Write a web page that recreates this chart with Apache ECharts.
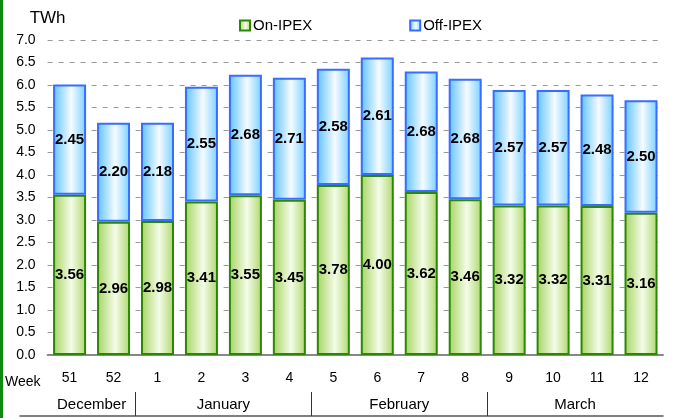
<!DOCTYPE html>
<html>
<head>
<meta charset="utf-8">
<script src="https://cdn.jsdelivr.net/npm/echarts@6/dist/echarts.min.js"></script>
<style>
  html, body { margin: 0; padding: 0; background: #fff; }
  .wrap { position: relative; width: 673px; height: 418px; }
  .frame-left { position: absolute; left: 0; top: 0; width: 3px; height: 418px; background: #118a11; z-index: 2; }
  #chart { width: 673px; height: 418px; }
</style>
</head>
<body>
<div class="wrap">
  <div class="frame-left"></div>
  <div id="chart"></div>
</div>
<script>
var weeks = ["51", "52", "1", "2", "3", "4", "5", "6", "7", "8", "9", "10", "11", "12"];
var onIpex = [3.56, 2.96, 2.98, 3.41, 3.55, 3.45, 3.78, 4.00, 3.62, 3.46, 3.32, 3.32, 3.31, 3.16];
var offIpex = [2.45, 2.20, 2.18, 2.55, 2.68, 2.71, 2.58, 2.61, 2.68, 2.68, 2.57, 2.57, 2.48, 2.50];
var months = ["December", "January", "February", "March"];
var monthWeeks = [2, 4, 4, 4]; // weeks in each month group

// month boundaries and centres in category units
var monthEdges = [];
var monthCenters = [];
var acc = 0;
for (let i = 0; i < monthWeeks.length; i++) {
  monthCenters.push(acc + monthWeeks[i] / 2);
  acc += monthWeeks[i];
  if (i < monthWeeks.length - 1) monthEdges.push(acc);
}

var font = "Liberation Sans, Arial, sans-serif";
var gridLeft = 47.6, gridRight = 10, monthLeft = 20;
var catW = (673 - gridLeft - gridRight) / weeks.length;
var monthMin = -(gridLeft - monthLeft) / catW;

var myChart = echarts.init(document.getElementById("chart"));

var greenFill = new echarts.graphic.LinearGradient(0, 0, 1, 0, [
  { offset: 0, color: "#a6d35f" },
  { offset: 0.55, color: "#f4fce9" },
  { offset: 1, color: "#aed76c" }
]);
var blueFill = new echarts.graphic.LinearGradient(0, 0, 1, 0, [
  { offset: 0, color: "#5cc3ff" },
  { offset: 0.55, color: "#f6fbff" },
  { offset: 1, color: "#78d0ff" }
]);

var label = {
  show: true,
  position: "inside",
  color: "#000",
  fontWeight: "bold",
  fontSize: 15,
  fontFamily: font,
  formatter: function (p) { return p.value.toFixed(2); }
};

var option = {
  animation: false,
  textStyle: { fontFamily: font },
  legend: {
    left: 234,
    top: 13,
    icon: "rect",
    itemWidth: 10,
    itemHeight: 10,
    itemGap: 97,
    textStyle: { fontSize: 15, color: "#000", fontFamily: font, padding: [0, 0, 0, -2] },
    data: ["On-IPEX", "Off-IPEX"]
  },
  grid: [
    { left: gridLeft, right: gridRight, top: 40, bottom: 63 },
    { left: monthLeft, right: gridRight, top: 380, bottom: 2 }
  ],
  graphic: [
    {
      type: "text",
      left: 5,
      top: 375,
      style: { text: "Week", fontSize: 14, fontFamily: font, fill: "#000" }
    }
  ],
  xAxis: [
    {
      type: "category",
      gridIndex: 0,
      data: weeks,
      axisLine: { lineStyle: { color: "#888", width: 2 } },
      axisTick: { show: false },
      axisLabel: { color: "#000", fontSize: 14, margin: 16, fontFamily: font }
    },
    {
      type: "value",
      gridIndex: 1,
      min: monthMin,
      max: weeks.length,
      axisLine: { show: true, lineStyle: { color: "#555", width: 1.5 } },
      axisTick: {
        show: true,
        inside: true,
        length: 24,
        customValues: monthEdges,
        lineStyle: { color: "#333", width: 1 }
      },
      axisLabel: {
        show: true,
        inside: true,
        margin: 4,
        customValues: monthCenters,
        color: "#000",
        fontSize: 15,
        fontFamily: font,
        formatter: function (v) {
          var idx = monthCenters.indexOf(v);
          return idx >= 0 ? months[idx] : "";
        }
      },
      splitLine: { show: false }
    }
  ],
  yAxis: [
    {
      type: "value",
      gridIndex: 0,
      min: 0,
      max: 7,
      interval: 0.5,
      name: "TWh",
      nameLocation: "end",
      nameGap: 13,
      nameTextStyle: { color: "#000", fontSize: 17, fontFamily: font, align: "center" },
      axisLine: { show: false },
      axisTick: { show: false },
      axisLabel: {
        color: "#000",
        fontSize: 14,
        margin: 12,
        fontFamily: font,
        formatter: function (v) { return v.toFixed(1); }
      },
      splitLine: { lineStyle: { color: "#999", type: [5, 6], width: 1 } }
    },
    { type: "value", gridIndex: 1, show: false }
  ],
  series: [
    {
      name: "On-IPEX",
      type: "bar",
      stack: "total",
      barWidth: 33,
      itemStyle: { color: greenFill, borderColor: "#2a8806", borderWidth: 2 },
      label: label,
      data: onIpex
    },
    {
      name: "Off-IPEX",
      type: "bar",
      stack: "total",
      barWidth: 33,
      itemStyle: { color: blueFill, borderColor: "#3a6cff", borderWidth: 2 },
      label: label,
      data: offIpex
    }
  ]
};

myChart.setOption(option);
</script>
</body>
</html>
